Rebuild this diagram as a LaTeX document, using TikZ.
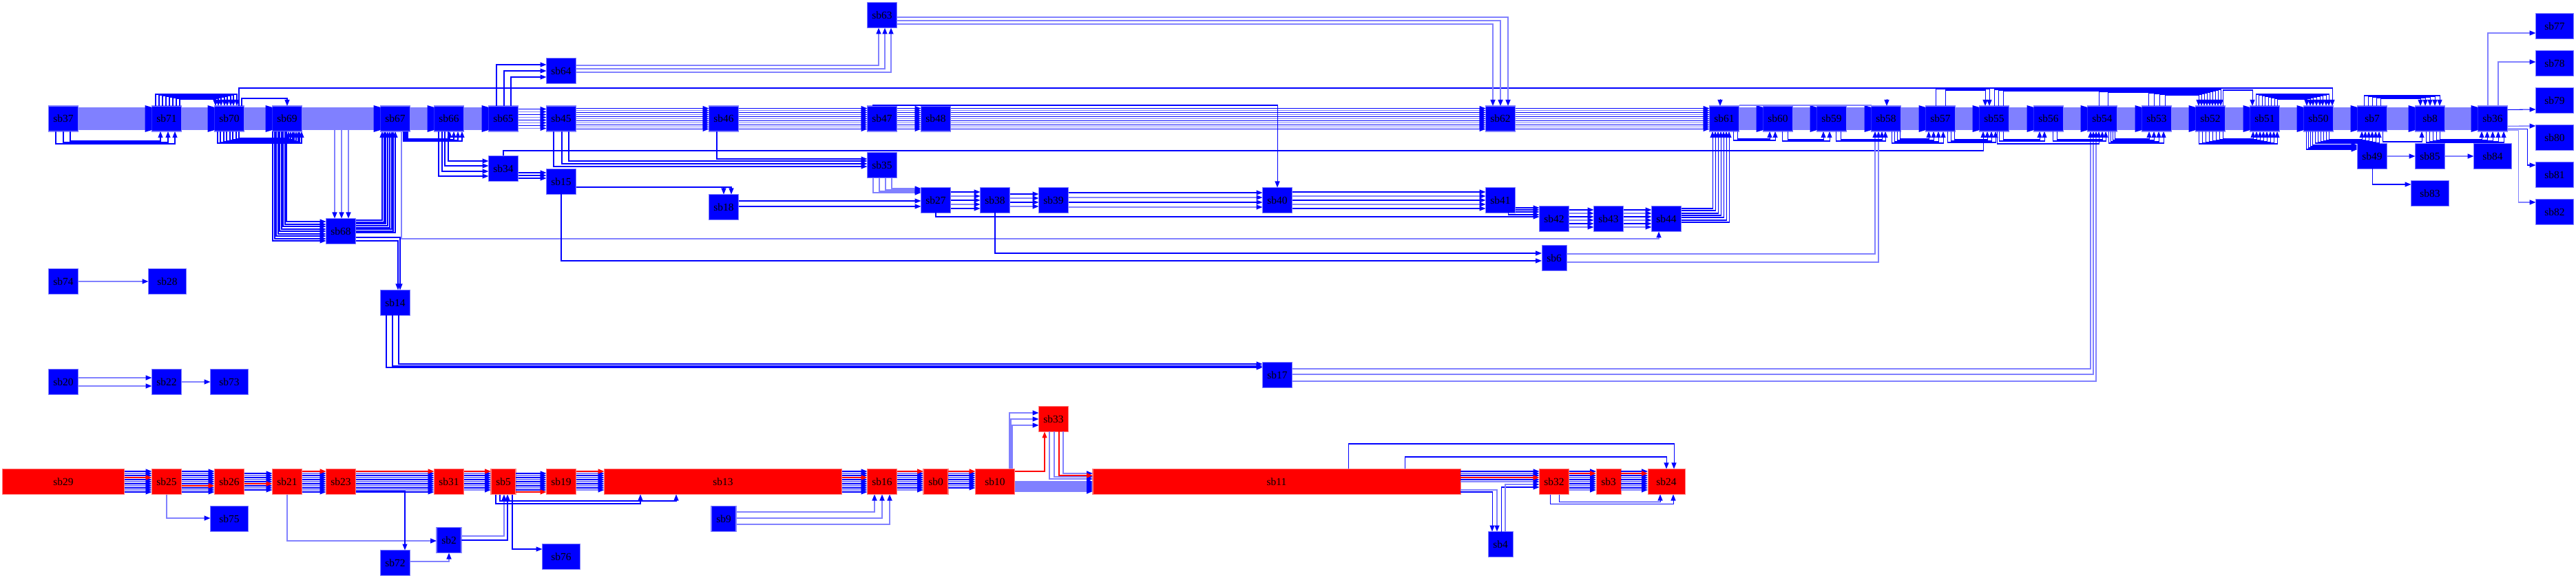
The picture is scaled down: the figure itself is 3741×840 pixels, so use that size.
\documentclass[tikz,border=0pt]{standalone}
\usepackage{fontspec}
\setmainfont{Liberation Serif}
\usetikzlibrary{arrows.meta,calc}
\newcommand\nodefont{\fontsize{4.4}{5}\selectfont}
\tikzset{
  blk/.style={draw=blue!50,fill=blue,line width=0.3pt,minimum width=4.3mm,minimum height=3.7mm,
              inner sep=0pt,outer sep=0pt,font=\nodefont},
  blkn/.style={blk,minimum width=3.6mm},
  blkw/.style={blk,minimum width=5.5mm},
  rblk/.style={blk,draw=red!50,fill=red},
  wire/.style={draw=blue,line width=0.3pt,-{Triangle[length=0.9mm,width=0.7mm,color=blue]}},
  wirel/.style={wire,draw=blue!50,line width=0.45pt},
  wirer/.style={draw=red,line width=0.35pt,-{Triangle[length=0.9mm,width=0.7mm,color=red]}},
  band/.style={fill=blue!50},
  tipset/.style={fill=blue},
}
\newcommand\bund[4]{%
  \foreach \d [count=\i] in {#3}{\ifnum\d=#4\relax\else
    \ifodd\i\relax\draw[wire] ($(#1.east)+(0,\d)$) -- ($(#2.west)+(0,\d)$);
    \else\draw[wirel] ($(#1.east)+(0,\d)$) -- ($(#2.west)+(0,\d)$);\fi\fi}
  \ifnum#4<99\relax\draw[wirer] ($(#1.east)+(0,#4)$) -- ($(#2.west)+(0,#4)$);\fi}
\newcommand\bandto[2]{%
  \fill[band] ($(#1.north east)+(0,2)$) rectangle ($(#2.south west)+(-10,-2)$);
  \fill[tipset] ($(#2.north west)+(-10,-1)$) -- ($(#2.north west)+(0,2)$) -- ($(#2.south west)+(0,-2)$)
    -- ($(#2.south west)+(-10,1)$) -- cycle;}
\newcommand\loopbelow[4][wire]{\foreach \a/\h/\b in {#4}
  \draw[#1] ($(#2.south)+(\a,0)$) -- ++(0,\h) -| ($(#3.south)+(\b,0)$);}
\newcommand\loopabove[4][wire]{\foreach \a/\h/\b in {#4}
  \draw[#1] ($(#2.north)+(\a,0)$) -- ++(0,-\h) -| ($(#3.north)+(\b,0)$);}

\begin{document}
\begin{tikzpicture}[x=0.1mm,y=-0.1mm]
  \path[use as bounding box,fill=white] (0,0) rectangle (3741,840);

  \foreach \n/\x in {sb37/92,sb71/242,sb70/333,sb69/417,sb67/574,sb66/652,sb65/731,sb45/815,
      sb46/1051,sb47/1281,sb48/1359,sb62/2179,sb61/2504,sb60/2582,sb59/2660,sb58/2739,sb57/2818,
      sb55/2896,sb56/2975,sb54/3053,sb53/3132,sb52/3210,sb51/3289,sb50/3367,sb7/3445,sb8/3529,sb36/3620}
    \node[blk] (\n) at (\x,172.5) {\n};
  \node[blk] (sb68) at (495,336) {sb68};
  \node[blk] (sb74) at (92,409) {sb74};
  \node[blkw] (sb28) at (243,409) {sb28};
  \node[blk] (sb14) at (574,440) {sb14};
  \node[blk] (sb20) at (92,555) {sb20};
  \node[blk] (sb22) at (242,555) {sb22};
  \node[blkw] (sb73) at (333,555) {sb73};
  \node[blk] (sb17) at (1855,545) {sb17};
  \node[blk] (sb63) at (1281,22) {sb63};
  \node[blk] (sb64) at (815,103) {sb64};
  \node[blk] (sb34) at (731,245) {sb34};
  \node[blk] (sb15) at (815,264) {sb15};
  \node[blk] (sb18) at (1051,301) {sb18};
  \node[blk] (sb35) at (1281,240) {sb35};
  \foreach \n/\x in {sb27/1359,sb38/1445,sb39/1530,sb40/1855,sb41/2179}
    \node[blk] (\n) at (\x,291) {\n};
  \foreach \n/\x in {sb42/2257,sb43/2336,sb44/2420}
    \node[blk] (\n) at (\x,318) {\n};
  \node[blkn] (sb6) at (2257,375) {sb6};
  \node[blk] (sb49) at (3445,227) {sb49};
  \node[blk] (sb85) at (3529,227) {sb85};
  \node[blkw] (sb84) at (3620,227) {sb84};
  \node[blkw] (sb83) at (3529,281) {sb83};
  \foreach \n [count=\k from 0] in {sb77,sb78,sb79,sb80,sb81,sb82}
    \node[blkw] (\n) at (3710,38+54*\k) {\n};

  \node[rblk,minimum width=17.7mm] (sb29) at (92,700) {sb29};
  \foreach \n/\x in {sb25/242,sb26/333,sb21/417,sb23/495,sb31/652,sb19/815,sb16/1281,sb32/2257}
    \node[rblk] (\n) at (\x,700) {\n};
  \foreach \n/\x in {sb5/731,sb0/1359,sb3/2336}
    \node[rblk,minimum width=3.6mm] (\n) at (\x,700) {\n};
  \node[rblk,minimum width=34.5mm] (sb13) at (1050,700) {sb13};
  \node[rblk,minimum width=5.7mm] (sb10) at (1445,700) {sb10};
  \node[rblk,minimum width=53.4mm] (sb11) at (1854,700) {sb11};
  \node[rblk,minimum width=5.4mm] (sb24) at (2420,700) {sb24};
  \node[rblk] (sb33) at (1530,609) {sb33};
  \node[blkw] (sb75) at (333,754) {sb75};
  \node[blk] (sb72) at (574,818) {sb72};
  \node[blkn] (sb2) at (652,785) {sb2};
  \node[blkw] (sb76) at (815,809) {sb76};
  \node[blkn] (sb9) at (1051,754) {sb9};
  \node[blkn] (sb4) at (2179,791) {sb4};

  \foreach \e/\b in {15/-9,13/1,11/11}
    \draw[wirel] ($(sb69.east)+(0,\e)$) -| ($(sb68.north)+(\b,0)$);
  \bandto{sb37}{sb71} \bandto{sb71}{sb70} \bandto{sb70}{sb69} \bandto{sb69}{sb67}
  \bandto{sb67}{sb66} \bandto{sb66}{sb65}
  \bandto{sb61}{sb60} \bandto{sb60}{sb59} \bandto{sb59}{sb58} \bandto{sb58}{sb57}
  \bandto{sb57}{sb55} \bandto{sb55}{sb56} \bandto{sb56}{sb54} \bandto{sb54}{sb53}
  \bandto{sb53}{sb52} \bandto{sb52}{sb51} \bandto{sb51}{sb50} \bandto{sb50}{sb7}
  \bandto{sb7}{sb8} \bandto{sb8}{sb36}
  \bund{sb65}{sb45}{-14,-10,...,14}{99}
  \bund{sb45}{sb46}{-15,-12,...,15}{99}
  \bund{sb46}{sb47}{-15,-12,...,15}{99}
  \bund{sb47}{sb48}{-15,-12,...,15}{99}
  \bund{sb48}{sb62}{-15,-12,...,15}{99}
  \bund{sb62}{sb61}{-15,-12,...,15}{99}

  \draw[wirel] (sb74) -- (sb28);
  \draw[wirel] ($(sb20.east)+(0,-6)$) -- ($(sb22.west)+(0,-6)$);
  \draw[wirel] ($(sb20.east)+(0,6)$) -- ($(sb22.west)+(0,6)$);
  \draw[wirel] (sb22) -- (sb73);

  \loopbelow{sb37}{sb71}{-11/18/12,0/16/2,10/14/-9}
  \loopabove{sb71}{sb70}{-16/17/11,-11/16/6,-6/15/2,-1/14/-3,4/13/-7,9/12/-12,14/11/-16,19/10/-20}
  \draw[wire] ($(sb70.north)+(18,0)$) -- ++(0,-11) -| (sb69.north);
  \draw[wire] ($(sb70.north)+(14,0)$) -- ++(0,-26) -| ($(sb50.north)+(20,0)$);
  \loopbelow{sb70}{sb69}{-17/17/21,-13/16/18,-8/15/16,-4/14/13,1/13/10,5/12/8,10/11/5,14/10/2}
  \foreach \a/\e in {-21/14,-18/11,-16/7,-13/4,-11/0,-8/-3,-6/-7,-3/-10,-1/-14}
    \draw[wire] ($(sb69.south)+(\a,0)$) |- ($(sb68.west)+(0,\e)$);
  \foreach \e/\b in {-16/-19,-13/-16,-11/-14,-8/-11,-5/-8,-3/-5,0/-3,2/0}
    \draw[wire] ($(sb68.east)+(0,\e)$) -| ($(sb67.south)+(\b,0)$);
  \draw[wire] ($(sb68.east)+(0,9)$) -| ($(sb14.north)+(7,0)$);
  \draw[wire] ($(sb68.east)+(0,14)$) -| ($(sb14.north)+(4,0)$);
  \draw[wirel] ($(sb67.south)+(9,0)$) -- ++(0,156) -| ($(sb44.south)+(-11,0)$);
  \loopbelow{sb67}{sb66}{12/14/19,14/13/13,16/12/7,18/11/1}
  \foreach \a/\e in {-15/11,-10/4,-6/-4,-1/-11}
    \draw[wire] ($(sb66.south)+(\a,0)$) |- ($(sb34.west)+(0,\e)$);
  \foreach \a/\e in {-10/-9,1/0,11/9}
    \draw[wire] ($(sb65.north)+(\a,0)$) |- ($(sb64.west)+(0,\e)$);
  \foreach \d in {6,10,14}
    \draw[wire] ($(sb34.east)+(0,\d)$) -- ($(sb15.west)+(0,\d-19)$);
  \draw[wire] (sb34.north) -- ++(0,-7.5) -| ($(sb55.south)+(-16,0)$);
  \foreach \a/\e in {-11/2,1/-2,11/-6}
    \draw[wire] ($(sb45.south)+(\a,0)$) |- ($(sb35.west)+(0,\e)$);
  \draw[wire] ($(sb46.south)+(-10,0)$) |- ($(sb35.west)+(0,-9)$);
  \draw[wire] ($(sb15.east)+(0,8)$) -| (sb18.north);
  \draw[wire] ($(sb15.east)+(0,8)$) -| ($(sb18.north)+(11,0)$);
  \draw[wire] (sb15.south) |- ($(sb6.west)+(0,4)$);
  \draw[wire] (sb38.south) |- ($(sb6.west)+(0,-7)$);
  \draw[wire] ($(sb18.east)+(0,-9)$) -- ($(sb27.west)+(0,1)$);
  \draw[wire] ($(sb18.east)+(0,-1)$) -- ($(sb27.west)+(0,9)$);
  \foreach \a/\e in {-13/-11,-4/-13,5/-15,14/-17}
    \draw[wirel] ($(sb35.south)+(\a,0)$) |- ($(sb27.west)+(0,\e)$);
  \foreach \e/\a in {-8/-5,-3/4,2/13}
    \draw[wirel] ($(sb64.east)+(0,\e)$) -| ($(sb63.south)+(\a,0)$);
  \foreach \e/\a in {3/11,8/0,13/-11}
    \draw[wirel] ($(sb63.east)+(0,\e)$) -| ($(sb62.north)+(\a,0)$);
  \draw[wire] ($(sb47.north)+(-13,0)$) -- ++(0,-1) -| (sb40.north);

  \bund{sb27}{sb38}{-12,-6,...,12}{99}
  \bund{sb38}{sb39}{-9,-3,...,9}{99}
  \bund{sb39}{sb40}{-11,-4,3,10}{99}
  \bund{sb40}{sb41}{-12,-6,...,12}{99}
  \draw[wire] (sb27.south) |- ($(sb42.west)+(0,-3)$);
  \foreach \d in {11,14,17}
    \draw[wire] ($(sb41.east)+(0,\d)$) -- ($(sb42.west)+(0,\d-27)$);
  \draw[wire] ($(sb41.south)+(11,0)$) |- ($(sb42.west)+(0,-6)$);
  \bund{sb42}{sb43}{-13,-8,...,12}{99}
  \bund{sb43}{sb44}{-13,-8,...,12}{99}
  \foreach \e/\a in {-15/-17,-12/-13,-8/-9,-5/-5,-2/-1,2/3,5/7}
    \draw[wire] ($(sb44.east)+(0,\e)$) -| ($(sb61.south)+(\a,0)$);
  \draw[wirel] ($(sb6.east)+(0,-6)$) -| ($(sb58.south)+(-16,0)$);
  \draw[wirel] ($(sb6.east)+(0,6)$) -| ($(sb58.south)+(-11,0)$);
  \foreach \a/\e in {-13/-11,-4/-13,5/-16}
    \draw[wire] ($(sb14.south)+(\a,0)$) |- ($(sb17.west)+(0,\e)$);
  \foreach \e/\a in {-9/-17,-1/-13,9/-9}
    \draw[wirel] ($(sb17.east)+(0,\e)$) -| ($(sb54.south)+(\a,0)$);

  \loopbelow{sb61}{sb60}{13/13/-4,19/11/-12}
  \loopbelow{sb60}{sb59}{6/14/-3,14/12/-12}
  \loopbelow{sb59}{sb58}{6/14/-1,13/12/-6}
  \loopbelow{sb58}{sb57}{8/17/4,12/15/-3,16/13/-10,20/11/-17}
  \loopbelow{sb57}{sb55}{10/16/2,15/14/-4,20/12/-10}
  \loopbelow{sb55}{sb56}{7/14/-6,13/12/-13}
  \loopbelow{sb55}{sb54}{4/18/-5}
  \loopbelow{sb56}{sb54}{6/14/5,12/12/0}
  \loopbelow{sb54}{sb53}{9/17/10,12/15/3,15/13/-4,18/11/-11}
  \loopbelow{sb52}{sb51}{-17/18/18,-12/17/13,-7/16/8,-2/15/3,3/14/-2,8/13/-7,13/12/-12,18/11/-17}
  \loopbelow{sb50}{sb7}{-5/17/10,-1/16/5,3/15/0,7/14/-5,11/13/-10,15/12/-15}
  \loopbelow{sb7}{sb8}{15/15/-12}
  \loopbelow{sb8}{sb36}{-6/16/16,-1/15/8,4/14/0,9/13/-8,14/12/-16}
  \loopabove{sb57}{sb55}{-7/25/-7,7/23/-13}
  \loopabove{sb55}{sb52}{0/24/15,6/23/11,13/22/7}
  \loopabove{sb54}{sb52}{-5/21/3,8/20/-1}
  \loopabove{sb53}{sb52}{-12/19/-5,-4/18/-9,4/17/-13,12/16/-17}
  \loopabove{sb52}{sb51}{18/23/-18}
  \loopabove{sb51}{sb50}{-13/17/15,-9/16/11,-4/15/6,0/14/2,5/13/-3,9/12/-8,14/11/-12,18/10/-17}
  \loopabove{sb7}{sb8}{-12/15/14,-6/14/7,0/13/0,6/12/-7,12/11/-14}
  \draw[wire] ($(sb61.north)+(-6,-10)$) -- ($(sb61.north)+(-6,0)$);
  \draw[wire] ($(sb58.north)+(1,-10)$) -- ($(sb58.north)+(1,0)$);
  \draw[wirel,-,line width=0.7pt] ($(sb61.north east)+(0,-1)$) -- ($(sb58.north west)+(0,-1)$);

  \foreach \a/\e in {-18/-10,-15/-12,-12/-14,-9/-16}
    \draw[wire] ($(sb50.south)+(\a,0)$) |- ($(sb49.west)+(0,\e)$);
  \draw[wirel] (sb49) -- (sb85);
  \draw[wirel] (sb85) -- (sb84);
  \draw[wire] (sb49.south) |- ($(sb83.west)+(0,-13)$);
  \draw[wirel] ($(sb36.north)+(-7,0)$) |- ($(sb77.west)+(0,10)$);
  \draw[wirel] ($(sb36.north)+(8,0)$) |- ($(sb78.west)+(0,-2)$);
  \draw[wire] ($(sb36.east)+(0,-13)$) -- ($(sb79.west)+(0,13)$);
  \draw[wirel] ($(sb36.east)+(0,11)$) -- ($(sb80.west)+(0,-17)$);
  \draw[wire] ($(sb36.east)+(0,15)$) -- ++(29,0) |- ($(sb81.west)+(0,-14)$);
  \draw[wirel] ($(sb36.east)+(0,17)$) -- ++(16,0) |- ($(sb82.west)+(0,-14)$);

  \bund{sb29}{sb25}{-15,-12,...,15}{-6}
  \bund{sb25}{sb26}{-15,-12,...,15}{6}
  \bund{sb26}{sb21}{-12,-9,...,12}{3}
  \bund{sb21}{sb23}{-15,-12,...,15}{-15}
  \bund{sb23}{sb31}{-15,-12,...,15}{-15}
  \bund{sb31}{sb5}{-15,-12,...,12}{-15}
  \bund{sb5}{sb19}{-12,-9,...,15}{15}
  \bund{sb19}{sb13}{-15,-12,...,12}{-15}
  \bund{sb13}{sb16}{-15,-12,...,15}{-6}
  \bund{sb16}{sb0}{-15,-12,...,12}{-15}
  \bund{sb0}{sb10}{-15,-12,...,9}{-15}
  \foreach \d in {0,2,...,14}
    \draw[wirel] ($(sb10.east)+(0,\d)$) -- ($(sb11.west)+(0,\d)$);
  \bund{sb11}{sb32}{-15,-12,...,0}{-6}
  \bund{sb32}{sb3}{-15,-12,...,12}{-12}
  \bund{sb3}{sb24}{-15,-12,...,12}{-12}

  \draw[wirel] (sb25.south) |- ($(sb75.west)+(0,-1)$);
  \draw[wirel] (sb21.south) |- ($(sb2.west)+(0,1)$);
  \draw[wire] ($(sb23.east)+(0,14)$) -| ($(sb72.north)+(14,0)$);
  \draw[wirel] ($(sb72.east)+(0,-2)$) -| (sb2.south);
  \draw[wirel] ($(sb2.east)+(0,-6)$) -| ($(sb5.south)+(1,0)$);
  \draw[wire] (sb2.east) -| ($(sb5.south)+(6,0)$);
  \draw[wire] ($(sb5.south)+(-11,0)$) -- ++(0,13.5) -| ($(sb13.south)+(-120,0)$);
  \draw[wire] ($(sb5.south)+(-5,0)$) -- ++(0,9.5) -| ($(sb13.south)+(-68,0)$);
  \draw[wire] ($(sb5.south)+(13,0)$) |- ($(sb76.west)+(0,-11)$);
  \draw[wirel] ($(sb9.east)+(0,-10)$) -| ($(sb16.south)+(-11,0)$);
  \draw[wirel] ($(sb9.east)+(0,-1)$) -| (sb16.south);
  \draw[wirel] ($(sb9.east)+(0,8)$) -| ($(sb16.south)+(11,0)$);
  \foreach \a/\e in {21/-9,23/0,25/9}
    \draw[wirel] ($(sb10.north)+(\a,0)$) |- ($(sb33.west)+(0,\e)$);
  \draw[wirer] ($(sb10.east)+(0,-15)$) -| ($(sb33.south)+(-13,0)$);
  \foreach \a/\e in {-6/-4,1/-7,14/-12}
    \draw[wirel] ($(sb33.south)+(\a,0)$) |- ($(sb11.west)+(0,\e)$);
  \draw[wirer] ($(sb33.south)+(8,0)$) |- ($(sb11.west)+(0,-9)$);
  \draw[wire] ($(sb11.north)+(104,0)$) -- ++(0,-36.5) -| ($(sb24.north)+(11,0)$);
  \draw[wire] ($(sb11.north)+(186,0)$) -- ++(0,-17.5) -| (sb24.north);
  \draw[wirel] ($(sb11.east)+(0,12)$) -| ($(sb4.north)+(-5,0)$);
  \draw[wire] ($(sb11.east)+(0,15)$) -| ($(sb4.north)+(-12,0)$);
  \draw[wire] ($(sb4.north)+(1,0)$) |- ($(sb32.west)+(0,8)$);
  \draw[wirel] ($(sb4.north)+(7,0)$) |- ($(sb32.west)+(0,4)$);
  \draw[wire] ($(sb32.south)+(-6,0)$) -- ++(0,14) -| ($(sb24.south)+(10,0)$);
  \draw[wire] ($(sb32.south)+(7,0)$) -- ++(0,11) -| ($(sb24.south)+(-9,0)$);
\end{tikzpicture}
\end{document}
